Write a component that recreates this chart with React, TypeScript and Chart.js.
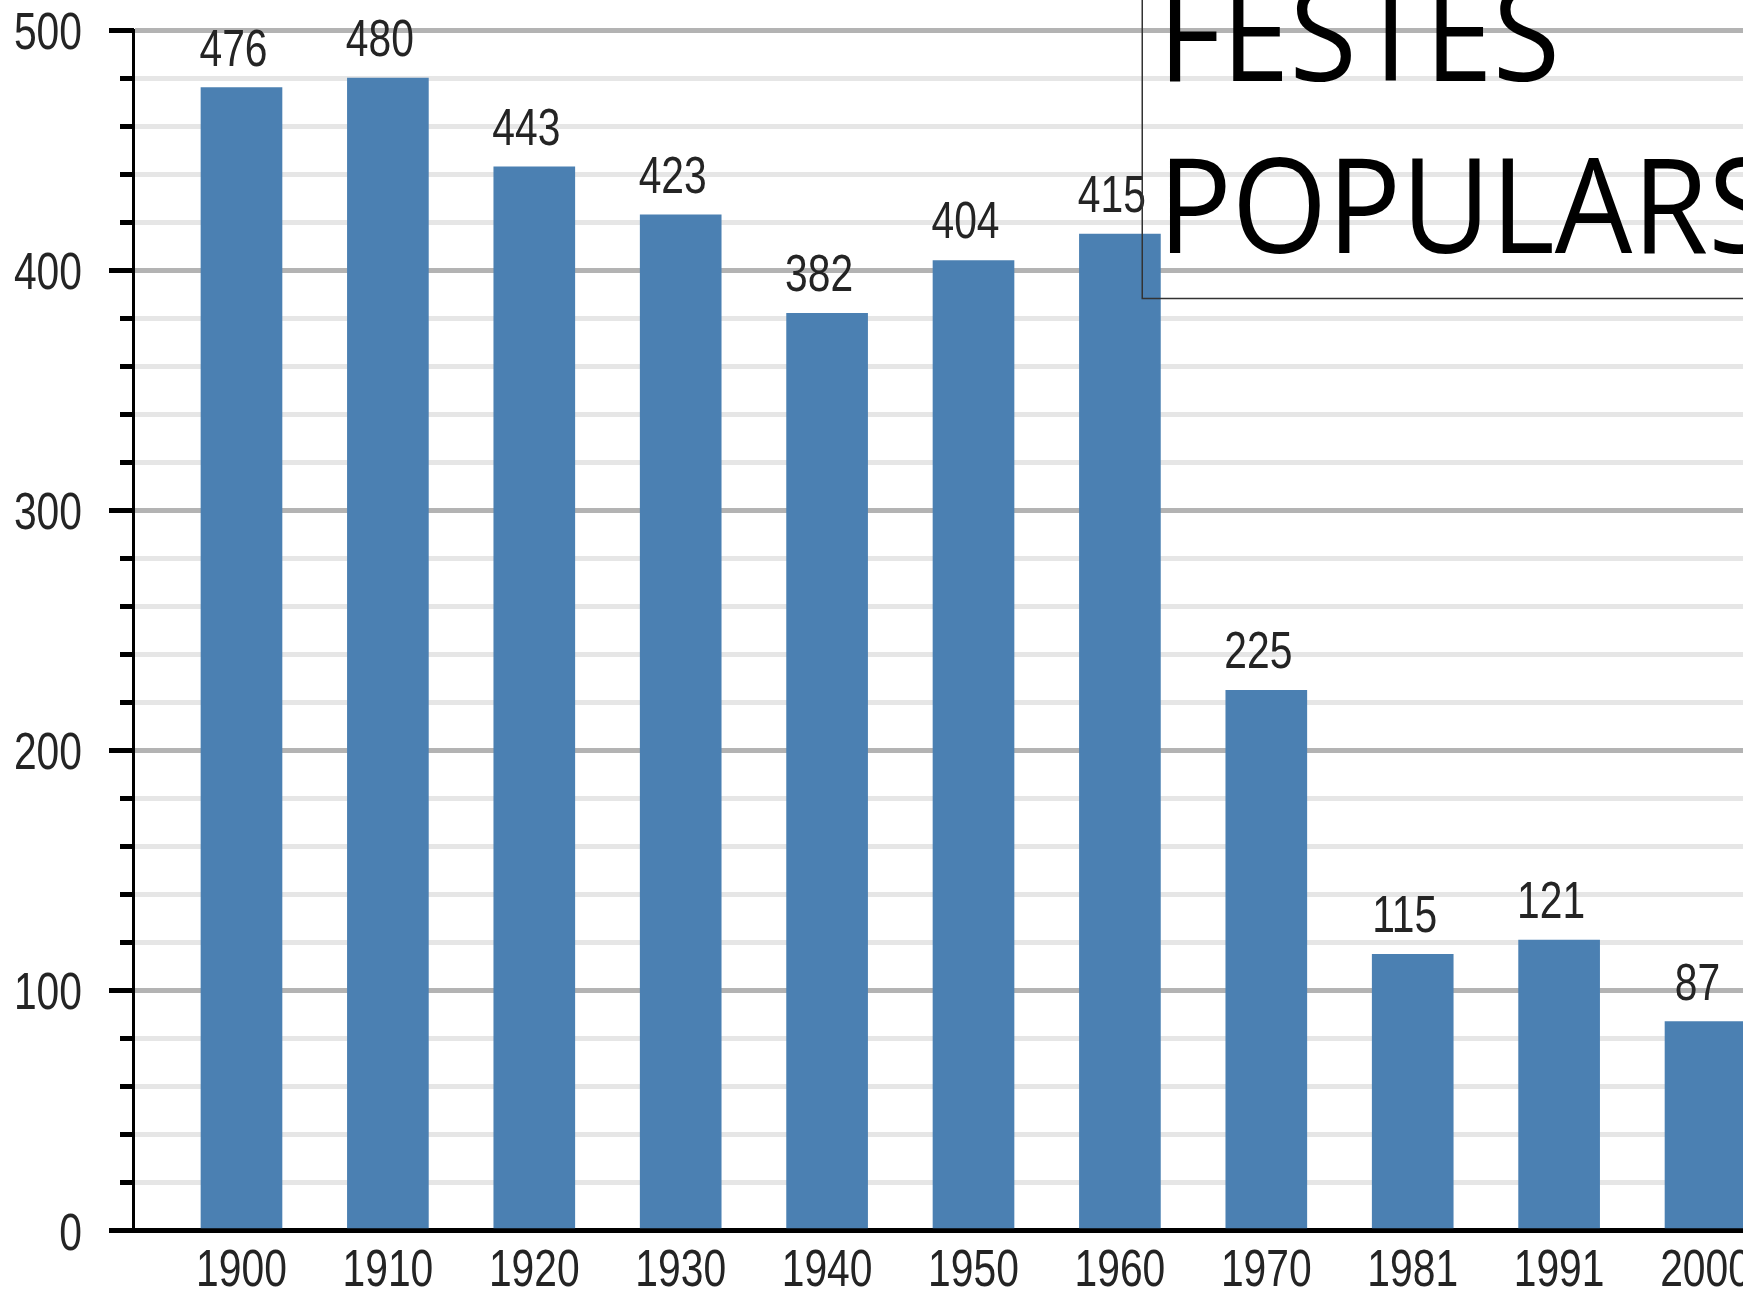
import React, { useEffect, useRef } from "react";
import { Chart, registerables } from "chart.js";

Chart.register(...registerables);

const categories = ["1900", "1910", "1920", "1930", "1940", "1950", "1960", "1970", "1981", "1991", "2000"];
const values = [476, 480, 443, 423, 382, 404, 415, 225, 115, 121, 87];
const yMajorTicks = [0, 100, 200, 300, 400, 500];
const titleLines = ["FESTES", "POPULARS"];

const W = 1743;
const H = 1291;
const X_MIN = -0.741;
const X_MAX = 10.256;
const NUM_FONT = '"Liberation Sans", Arial, sans-serif';
const NUM_SIZE = 51;
const NUM_SCALE_X = 0.8;
const TEXT_COLOR = "#242424";
const BAR_COLOR = "#4b80b2";

function drawNarrow(ctx: CanvasRenderingContext2D, text: string, x: number, y: number, align: CanvasTextAlign) {
  ctx.save();
  ctx.translate(x, y);
  ctx.scale(NUM_SCALE_X, 1);
  ctx.textAlign = align;
  ctx.fillText(text, 0, 0);
  ctx.restore();
}

export default function App() {
  const ref = useRef<HTMLCanvasElement | null>(null);

  useEffect(() => {
    const canvas = ref.current;
    if (!canvas) return;

    const axisDecor = {
      id: "axisDecor",
      afterDraw(chart: any) {
        const y = chart.scales.y;
        const x = chart.scales.x;
        const ctx = chart.ctx;
        const left = chart.chartArea.left;
        const bottom = chart.chartArea.bottom;
        ctx.save();
        ctx.fillStyle = "#000";
        y.ticks.forEach((t: any) => {
          const p = y.getPixelForValue(t.value);
          const c = Math.round(p - 2.5) + 2.5;
          const major = yMajorTicks.includes(t.value);
          const len = major ? 24 : 13;
          ctx.fillRect(left - len, c - 2.5, len + 1, 5);
        });
        ctx.fillStyle = TEXT_COLOR;
        ctx.font = `${NUM_SIZE}px ${NUM_FONT}`;
        ctx.textBaseline = "middle";
        yMajorTicks.forEach((v) => {
          drawNarrow(ctx, String(v), left - 51, y.getPixelForValue(v) + 5, "right");
        });
        ctx.textBaseline = "alphabetic";
        categories.forEach((c, i) => {
          drawNarrow(ctx, c, x.getPixelForValue(i), bottom + 55, "center");
        });
        ctx.restore();
      },
    };

    const dataLabels = {
      id: "dataLabels",
      afterDatasetsDraw(chart: any) {
        const ctx = chart.ctx;
        const meta = chart.getDatasetMeta(0);
        ctx.save();
        ctx.fillStyle = TEXT_COLOR;
        ctx.font = `${NUM_SIZE}px ${NUM_FONT}`;
        ctx.textBaseline = "alphabetic";
        meta.data.forEach((bar: any, i: number) => {
          drawNarrow(ctx, String(values[i]), bar.x - 8, bar.y - 22, "center");
        });
        ctx.restore();
      },
    };

    const titleBox = {
      id: "titleBox",
      afterDraw(chart: any) {
        const ctx = chart.ctx;
        ctx.save();
        ctx.strokeStyle = "#333";
        ctx.lineWidth = 1.5;
        ctx.strokeRect(1142.25, -60, 900, 358.5);
        ctx.fillStyle = "#000";
        ctx.font = '500 132px "Open Sans", "Noto Sans", sans-serif';
        ctx.textAlign = "left";
        ctx.textBaseline = "alphabetic";
        ctx.translate(1158, 0);
        ctx.scale(0.93, 1);
        ctx.fillText(titleLines[0], 0, 81);
        ctx.fillText(titleLines[1], 0, 253);
        ctx.restore();
      },
    };

    const chart = new Chart(canvas, {
      type: "bar",
      data: {
        datasets: [
          {
            data: values.map((v, i) => ({ x: i, y: v })),
            backgroundColor: BAR_COLOR,
            borderWidth: 0,
            barThickness: 81,
          },
        ],
      },
      options: {
        animation: false,
        responsive: false,
        maintainAspectRatio: false,
        devicePixelRatio: 1,
        layout: { padding: { top: 30, left: 0, right: 0, bottom: 0 } },
        plugins: {
          legend: { display: false },
          tooltip: { enabled: false },
          title: { display: false },
        },
        scales: {
          x: {
            type: "linear",
            min: X_MIN,
            max: X_MAX,
            offset: false,
            grid: { display: false, drawTicks: false },
            border: { display: true, color: "#000", width: 5 },
            ticks: { display: false, stepSize: 1 },
            afterFit: (s: any) => {
              s.height = 60.5;
              s.paddingLeft = 0;
              s.paddingRight = 0;
            },
          },
          y: {
            min: 0,
            max: 500,
            grid: {
              color: (c: any) => (yMajorTicks.includes(c.tick?.value) ? "#b3b3b3" : "#e6e6e6"),
              lineWidth: 5,
              drawTicks: false,
            },
            border: { display: true, color: "#000", width: 3 },
            ticks: { display: false, stepSize: 20, autoSkip: false },
            afterFit: (s: any) => {
              s.width = 133;
              s.paddingTop = 0;
              s.paddingBottom = 0;
            },
          },
        },
      } as any,
      plugins: [axisDecor, dataLabels, titleBox],
    });

    return () => chart.destroy();
  }, []);

  return (
    <div style={{ position: "fixed", left: 0, top: 0, width: W, height: H, overflow: "hidden", background: "#fff" }}>
      <canvas ref={ref} width={W} height={H} style={{ display: "block", width: W, height: H }} />
    </div>
  );
}
